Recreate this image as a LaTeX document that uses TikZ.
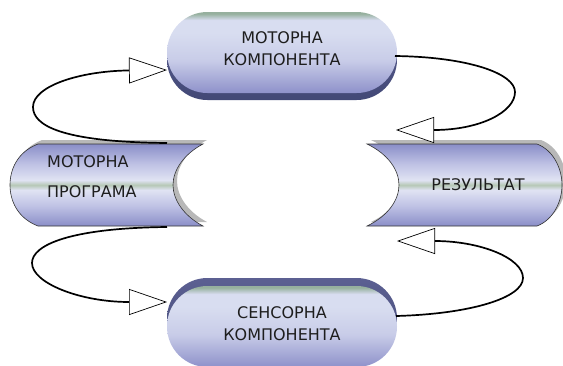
\documentclass[tikz,border=0pt]{standalone}
\usepackage{fontspec}
\setmainfont{DejaVu Sans}
\usetikzlibrary{arrows.meta}
\definecolor{sdark}{RGB}{138,142,200}
\definecolor{smid}{RGB}{190,193,228}
\definecolor{slight}{RGB}{224,227,243}
\definecolor{sgreen}{RGB}{182,200,182}
\definecolor{pdark}{RGB}{142,145,202}
\definecolor{pmid}{RGB}{200,204,232}
\definecolor{plight}{RGB}{216,221,240}
\definecolor{pgreen}{RGB}{150,176,158}
\definecolor{shdA}{RGB}{92,96,146}
\definecolor{shdB}{RGB}{66,72,118}
\definecolor{txt}{RGB}{30,30,30}
\definecolor{rim}{RGB}{184,184,184}
\pgfdeclareverticalshading{scrollsh}{100bp}{color(0bp)=(sdark); color(25bp)=(sdark); color(37bp)=(smid); color(47bp)=(slight); color(50bp)=(sgreen); color(53bp)=(slight); color(63bp)=(smid); color(75bp)=(sdark); color(100bp)=(sdark)}
\pgfdeclareverticalshading{pillsh}{100bp}{color(0bp)=(pdark); color(25bp)=(pdark); color(45bp)=(pmid); color(62bp)=(plight); color(70bp)=(plight); color(74bp)=(pgreen); color(75bp)=(pgreen); color(100bp)=(pgreen)}
\tikzset{
  lbl/.style={inner sep=0pt, text=txt, font=\fontsize{16}{22}\selectfont},
  scrollbody/.style={shading=scrollsh, draw=black!80, line width=0.6pt},
  scrollrim/.style={fill=rim},
  pillbody/.style={shading=pillsh, rounded corners=40.4pt},
  pillshadow/.style={top color=shdA, bottom color=shdB, rounded corners=40.4pt},
  loop/.style={line width=1.7pt, draw=black,
    -{Triangle[length=38pt,width=26pt,fill=white,line width=0.7pt]}}
}
\begin{document}
\begin{tikzpicture}[x=1pt,y=-1pt]
\useasboundingbox (0,0) rectangle (563,365);
\clip (0,0) rectangle (563,365);
% top pill
\path[pillshadow] (167,19) rectangle (397,100);
\path[pillbody] (167,12) rectangle (397,93);
\node[lbl, align=center] (mk) at (282,49) {МОТОРНА\\КОМПОНЕНТА};
% bottom pill
\path[pillshadow] (167,278) rectangle (397,359);
\path[pillbody] (167,286) rectangle (397,367);
\node[lbl, align=center] (sk) at (282,324) {СЕНСОРНА\\КОМПОНЕНТА};
% left scroll
\fill[scrollrim, shift={(4,-4)}] (38,144) -- (203,144) .. controls (184,154) and (173,170) .. (173,185) .. controls (173,200) and (184,216) .. (203,226) -- (38,226) .. controls (17,218) and (10,200) .. (10,185) .. controls (10,170) and (17,152) .. (38,144) -- cycle;
\path[scrollbody] (38,144) -- (203,144) .. controls (184,154) and (173,170) .. (173,185) .. controls (173,200) and (184,216) .. (203,226) -- (38,226) .. controls (17,218) and (10,200) .. (10,185) .. controls (10,170) and (17,152) .. (38,144) -- cycle;
\node[lbl, anchor=west] (mp1) at (47,162) {МОТОРНА};
\node[lbl, anchor=west] (mp2) at (47,192) {ПРОГРАМА};
% right scroll
\fill[scrollrim, shift={(4,-4)}] (367,144) -- (537,144) .. controls (553,150) and (562,168) .. (562,185) .. controls (562,202) and (553,220) .. (537,226) -- (367,226) .. controls (388,216) and (399,200) .. (399,185) .. controls (399,170) and (388,154) .. (367,144) -- cycle;
\path[scrollbody] (367,144) -- (537,144) .. controls (553,150) and (562,168) .. (562,185) .. controls (562,202) and (553,220) .. (537,226) -- (367,226) .. controls (388,216) and (399,200) .. (399,185) .. controls (399,170) and (388,154) .. (367,144) -- cycle;
\node[lbl] (rez) at (478,185) {РЕЗУЛЬТАТ};
% connector end points
\coordinate (progtop) at (167,143);
\coordinate (progbot) at (167,227);
\coordinate (mkleft) at (167,70);
\coordinate (mkright) at (395,56);
\coordinate (skleft) at (167,302);
\coordinate (skright) at (396,316);
\coordinate (reztop) at (396,130);
\coordinate (rezbot) at (397,241);
% loops
\draw[loop] (progtop) .. controls (60,142) and (33,125) .. (33,107) .. controls (33,86) and (80,71) .. (mkleft);
\draw[loop] (mkright) .. controls (470,57) and (515,74) .. (515,92) .. controls (515,112) and (480,130) .. (reztop);
\draw[loop] (progbot) .. controls (70,228) and (32,245) .. (32,263) .. controls (32,283) and (80,302) .. (skleft);
\draw[loop] (skright) .. controls (470,314) and (523,298) .. (523,278) .. controls (523,258) and (480,241) .. (rezbot);
\end{tikzpicture}
\end{document}
